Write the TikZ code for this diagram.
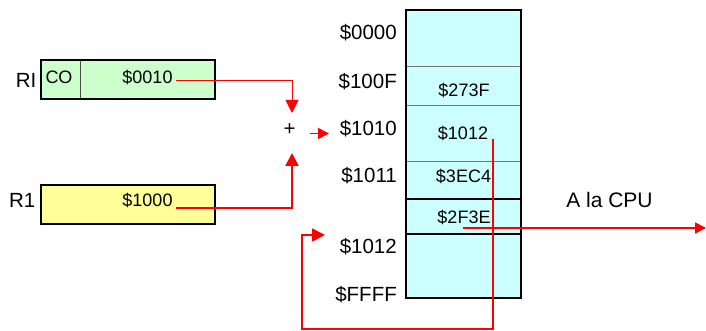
\documentclass[tikz,border=0pt]{standalone}
\usepackage{fontspec}
\setmainfont{Liberation Sans}
\usetikzlibrary{arrows.meta}
\definecolor{memcol}{RGB}{204,255,255}
\definecolor{ricol}{RGB}{204,255,204}
\definecolor{r1col}{RGB}{255,255,153}
\begin{document}
\begin{tikzpicture}[x=1pt,y=-1pt,
  lbl/.style={inner sep=0pt, font=\fontsize{20.5}{22}\selectfont},
  val/.style={inner sep=0pt, font=\fontsize{18}{20}\selectfont},
  regbox/.style={draw=black, line width=1.4pt},
  divline/.style={draw=black!55, line width=0.9pt},
  divdark/.style={draw=black, line width=1.2pt},
  redthin/.style={draw=red, line width=0.9pt},
  redmed/.style={draw=red, line width=1.6pt},
  redthick/.style={draw=red, line width=2.2pt},
  tipA/.style={-{Triangle[length=13pt,width=13pt]}},
  tipB/.style={-{Triangle[length=11pt,width=11pt]}}
]
\useasboundingbox (0,0) rectangle (706,331);

% memory block
\fill[memcol] (406,10) rectangle (521,298);
\draw[divline] (406,66) -- (521,66);
\draw[divline] (406,105) -- (521,105);
\draw[divline] (406,161) -- (521,161);
\draw[divdark] (406,199) -- (521,199);
\draw[divdark] (406,234) -- (521,234);
\draw[regbox] (406,10) rectangle (521,298);

% address labels
\node[lbl, anchor=east] (a0000) at (397,32.5) {\$0000};
\node[lbl, anchor=east] (a100F) at (397,82) {\$100F};
\node[lbl, anchor=east] (a1010) at (397,129) {\$1010};
\node[lbl, anchor=east] (a1011) at (397,175.5) {\$1011};
\node[lbl, anchor=east] (a1012) at (397,247) {\$1012};
\node[lbl, anchor=east] (aFFFF) at (397,295) {\$FFFF};

% cell values
\node[val] (v273F) at (464,90) {\$273F};
\node[val] (v1012) at (463,133.5) {\$1012};
\node[val] (v3EC4) at (463.5,176) {\$3EC4};
\node[val] (v2F3E) at (464,217.5) {\$2F3E};

% registers
\fill[ricol] (41,60) rectangle (215,99);
\draw[black!70, line width=0.8pt] (80,60) -- (80,99);
\draw[regbox] (41,60) rectangle (215,99);
\fill[r1col] (41,185) rectangle (215,224);
\draw[regbox] (41,185) rectangle (215,224);

\node[lbl, anchor=east] (lRI) at (36.5,80.5) {RI};
\node[val] (co) at (59,77) {CO};
\node[val] (v0010) at (147.5,77) {\$0010};
\node[lbl, anchor=east] (lR1) at (35.5,200.5) {R1};
\node[val] (v1000) at (147.5,200.5) {\$1000};

\node[lbl] (plus) at (289.5,130) {+};
\node[lbl, font=\fontsize{21}{22}\selectfont] (cpu) at (609.5,200) {A la CPU};

% connector end points
\coordinate (s0010) at (176,80);
\coordinate (plusTop) at (292,113);
\coordinate (s1000) at (176,208);
\coordinate (plusBot) at (292,153);
\coordinate (plusOut) at (310,133.5);
\coordinate (in1010) at (329,133.5);
\coordinate (s1012) at (493,139);
\coordinate (in1012) at (325,235);
\coordinate (s2F3E) at (463,228);
\coordinate (outCPU) at (706,228);

% connectors
\draw[redthin, tipA] (s0010) -| (plusTop);
\draw[redthick, tipA] (s1000) -| (plusBot);
\draw[redmed, tipB] (plusOut) -- (in1010);
\draw[redmed, tipA] (s1012) -- (493,329) -- (302,329) |- (in1012);
\draw[redmed, tipB] (s2F3E) -- (outCPU);
\end{tikzpicture}
\end{document}
